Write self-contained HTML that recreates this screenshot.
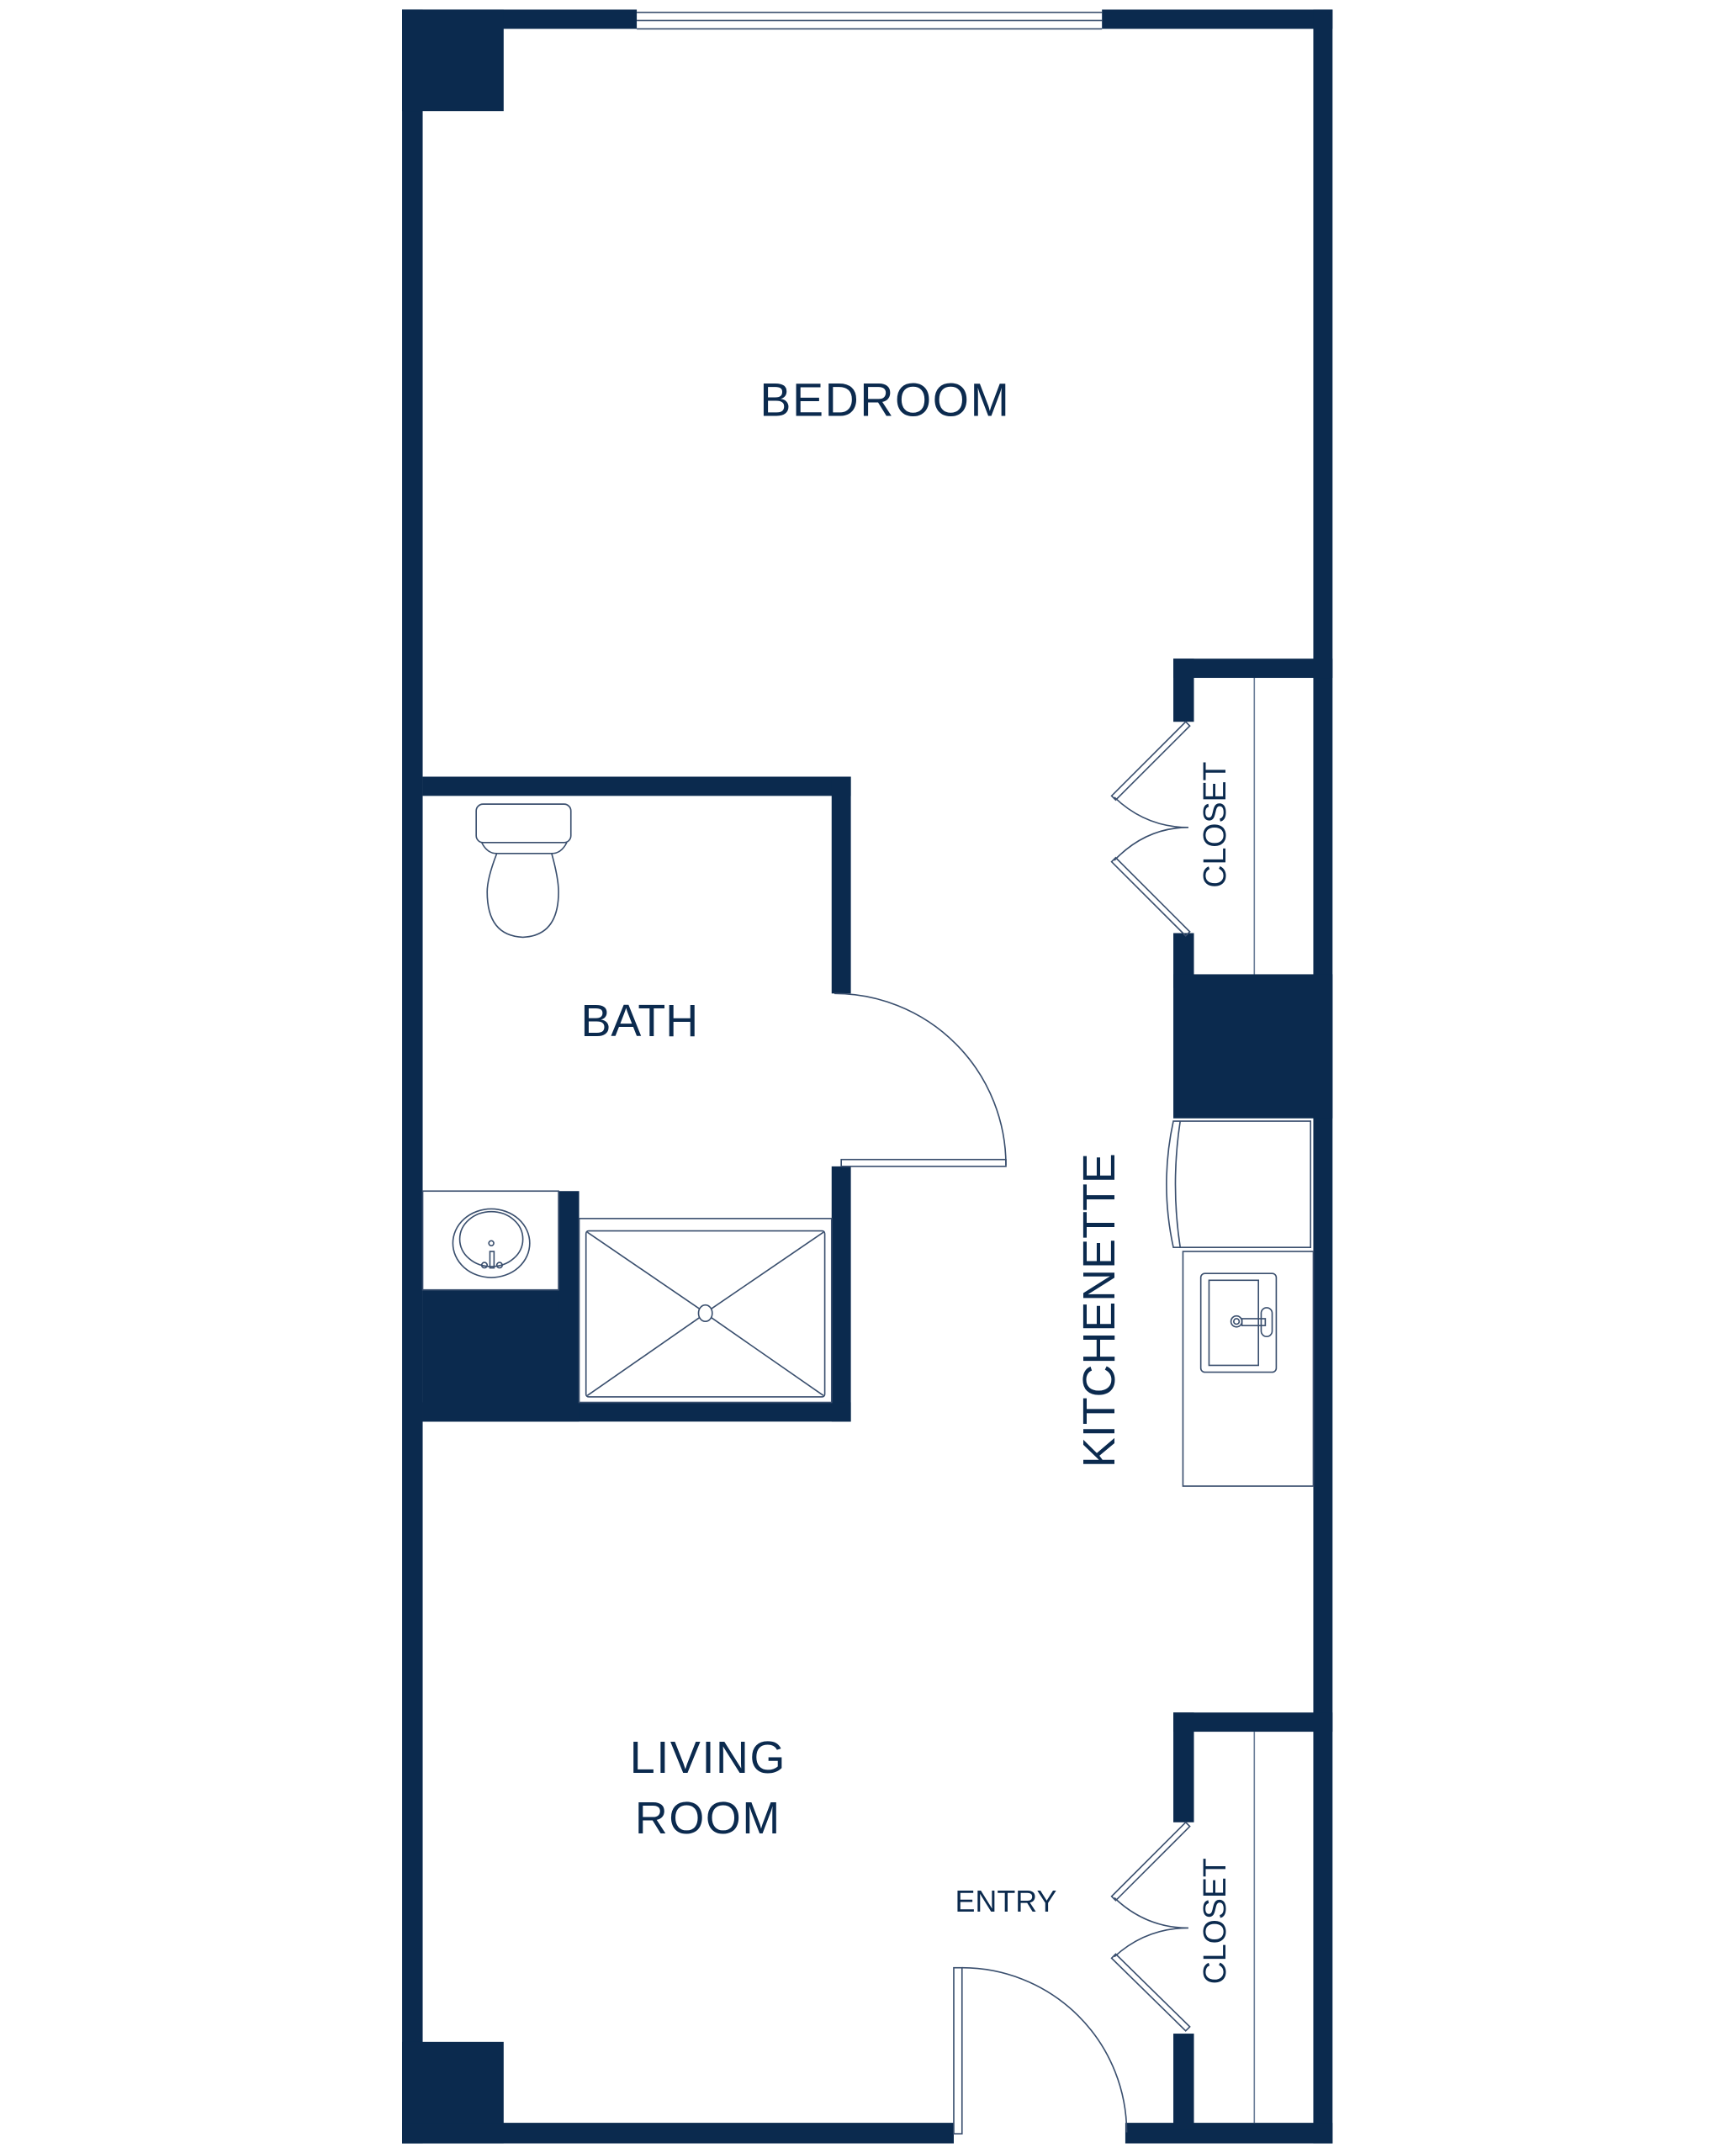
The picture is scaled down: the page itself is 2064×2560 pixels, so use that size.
<!DOCTYPE html>
<html><head><meta charset="utf-8"><style>
html,body{margin:0;padding:0;background:#fff;}
svg{display:block;}
text{font-family:"Liberation Sans",sans-serif;fill:#0b2a4e;}
</style></head><body>
<svg width="2064" height="2560" viewBox="0 0 1265 1569" preserveAspectRatio="none" xmlns="http://www.w3.org/2000/svg">
<g fill="#0b2a4e">
<rect x="293" y="7" width="171" height="14"/>
<rect x="803" y="7" width="168" height="14"/>
<rect x="293" y="7" width="15" height="1555"/>
<rect x="957" y="7" width="14" height="1555"/>
<rect x="293" y="7" width="74" height="74"/>
<rect x="293" y="1488" width="74" height="74"/>
<rect x="293" y="1547" width="402" height="15"/>
<rect x="820" y="1547" width="151" height="15"/>
<rect x="308" y="566" width="312" height="14"/>
<rect x="606" y="566" width="14" height="158"/>
<rect x="606" y="850" width="14" height="186"/>
<rect x="308" y="1022" width="312" height="14"/>
<rect x="308" y="940" width="114" height="96"/>
<rect x="407" y="868" width="15" height="90"/>
<rect x="855" y="480" width="116" height="14"/>
<rect x="855" y="480" width="15" height="46"/>
<rect x="855" y="680" width="15" height="40"/>
<rect x="855" y="710" width="116" height="105"/>
<rect x="855" y="1248" width="116" height="14"/>
<rect x="855" y="1248" width="15" height="80"/>
<rect x="855" y="1482" width="15" height="70"/>
</g>
<g fill="none" stroke="#3a4f6e" stroke-width="1">
<line x1="464" y1="9" x2="803" y2="9"/>
<line x1="464" y1="15" x2="803" y2="15"/>
<line x1="464" y1="21" x2="803" y2="21"/>
<line x1="914" y1="494" x2="914" y2="710" stroke="#6a7d98"/>
<line x1="914" y1="1262" x2="914" y2="1547" stroke="#6a7d98"/>
<path d="M864 526 L810 580 L813 583 L867 529 Z"/>
<path d="M864 682 L810 628 L813 625 L867 679 Z"/>
<path d="M812 581 Q835 603 866 603 Q835 603 812 627"/>
<path d="M864 1328 L810 1382 L813 1385 L867 1331 Z"/>
<path d="M864 1480 L810 1427 L813 1424 L867 1477 Z"/>
<path d="M812 1383 Q835 1405 866 1405 Q835 1405 812 1426"/>
<rect x="695" y="1434" width="6" height="121"/>
<path d="M701 1434 A120 120 0 0 1 821 1554"/>
<rect x="613" y="845" width="120" height="5"/>
<path d="M608 724 A125 125 0 0 1 733 849"/>
<rect x="347" y="586" width="69" height="28" rx="5"/>
<path d="M351 614 Q355 622 362 622 L402 622 Q409 622 413 614"/>
<path d="M362 622 Q355 640 355 650 Q355 682 381 683 Q407 682 407 650 Q407 640 402 622"/>
<rect x="308" y="868" width="99" height="72"/>
<ellipse cx="358" cy="906" rx="28" ry="25"/>
<ellipse cx="358" cy="903" rx="23" ry="20"/>
<circle cx="358" cy="906" r="1.8"/>
<rect x="357" y="912" width="3" height="12"/>
<circle cx="353" cy="922" r="2"/><circle cx="364" cy="922" r="2"/>
<rect x="422" y="888" width="184" height="134"/>
<rect x="427" y="897" width="174" height="121" rx="2"/>
<line x1="428" y1="898" x2="510" y2="954"/>
<line x1="600" y1="898" x2="518" y2="954"/>
<line x1="428" y1="1017" x2="510" y2="960"/>
<line x1="600" y1="1017" x2="518" y2="960"/>
<ellipse cx="514" cy="957" rx="5" ry="6"/>
<path d="M855 817 L955 817 L955 909 L855 909 Q845 863 855 817 Z"/>
<path d="M860 817 Q853 863 860 909"/>
<rect x="862" y="912" width="95" height="171"/>
<rect x="875" y="928" width="55" height="72" rx="3"/>
<rect x="881" y="933" width="36" height="62"/>
<circle cx="901" cy="963" r="4"/><circle cx="901" cy="963" r="2"/>
<rect x="905" y="961" width="17" height="5"/>
<rect x="919" y="953" width="8" height="21" rx="4"/>
</g>
<text x="645" y="303" font-size="34" text-anchor="middle" letter-spacing="1">BEDROOM</text>
<text x="466" y="755" font-size="33" text-anchor="middle">BATH</text>
<text x="516" y="1292" font-size="33" text-anchor="middle" letter-spacing="1">LIVING</text>
<text x="516" y="1336" font-size="33" text-anchor="middle" letter-spacing="1">ROOM</text>
<text x="733" y="1393" font-size="22" text-anchor="middle">ENTRY</text>
<text transform="translate(812,955) rotate(-90)" font-size="33" text-anchor="middle">KITCHENETTE</text>
<text transform="translate(893,601) rotate(-90)" font-size="23" text-anchor="middle">CLOSET</text>
<text transform="translate(893,1400) rotate(-90)" font-size="23" text-anchor="middle">CLOSET</text>
</svg>
</body></html>
